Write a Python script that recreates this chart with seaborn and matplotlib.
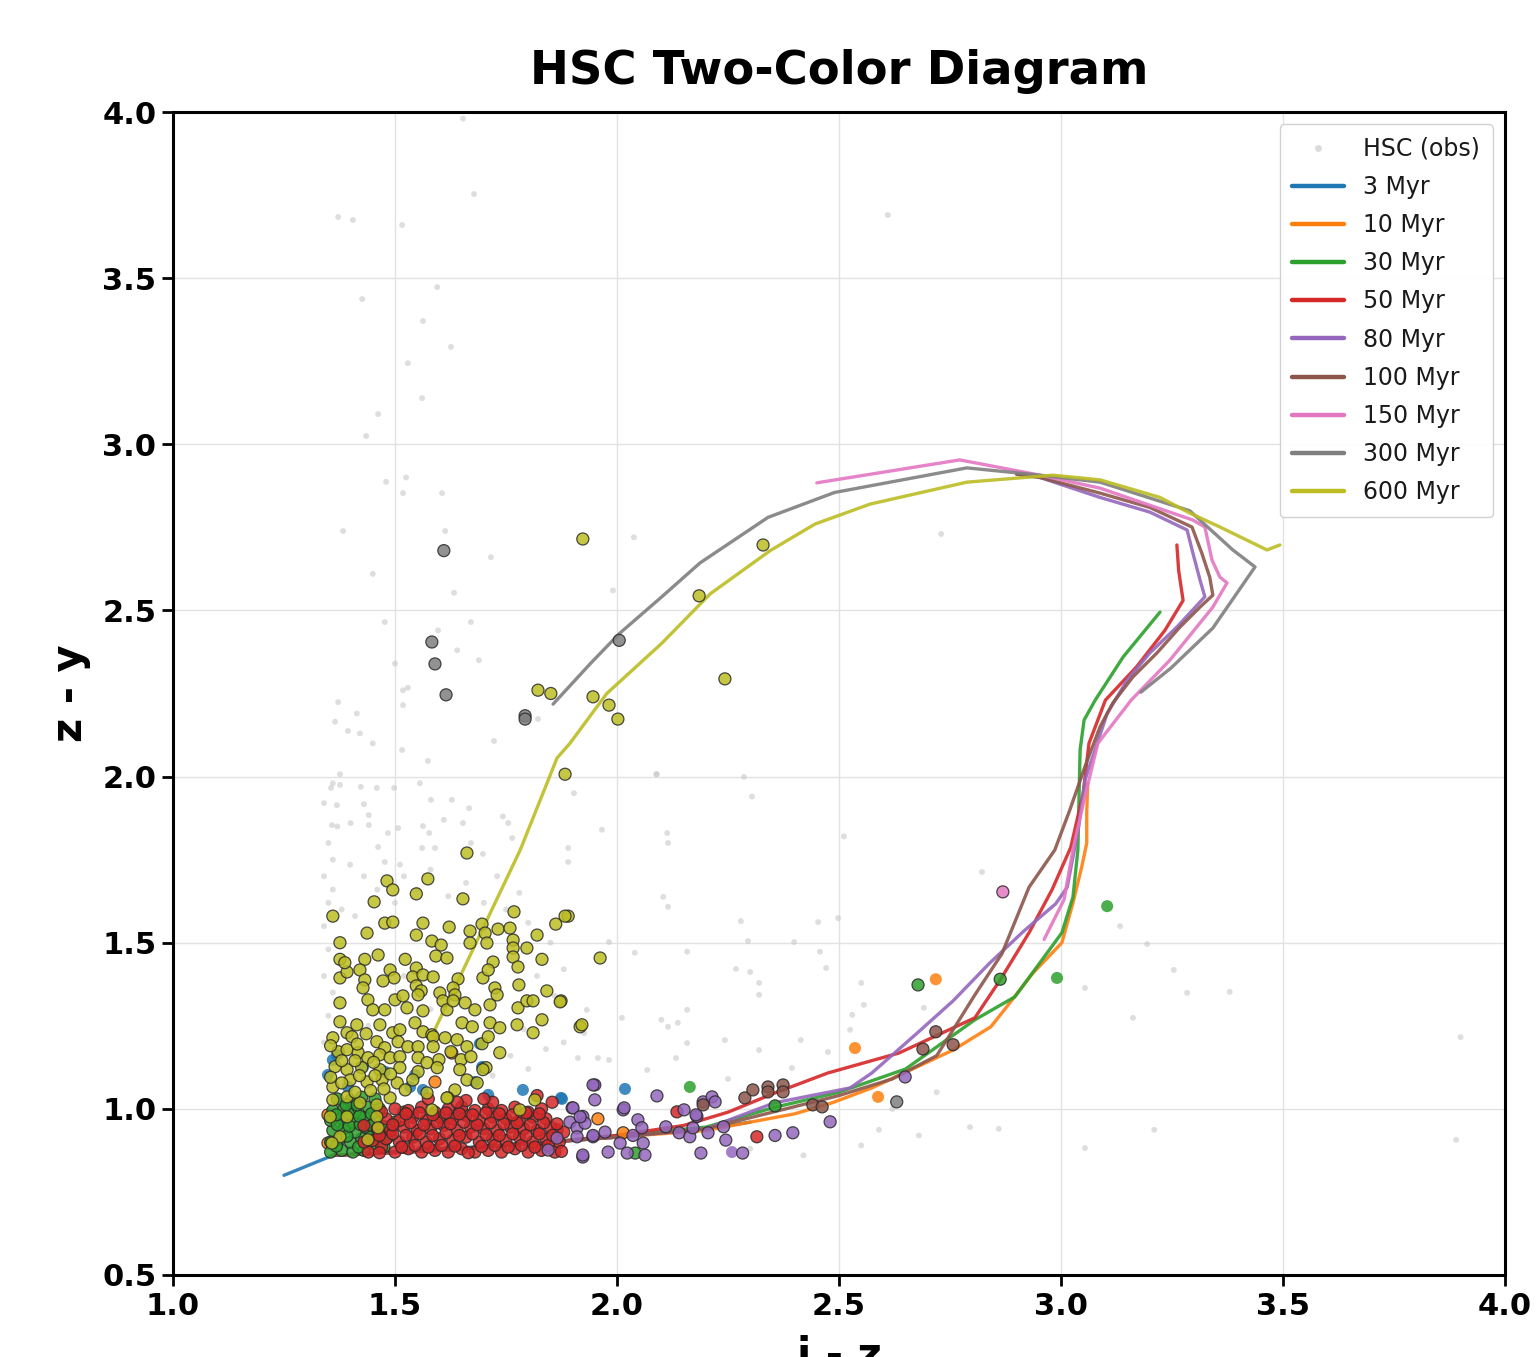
import numpy as np
import pandas as pd
import matplotlib
matplotlib.use("Agg")
import matplotlib.pyplot as plt
from matplotlib.lines import Line2D
import seaborn as sns

# ---------------- data ----------------
ages = ["3 Myr", "10 Myr", "30 Myr", "50 Myr", "80 Myr", "100 Myr", "150 Myr", "300 Myr", "600 Myr"]

# isochrone tracks (i-z, z-y)
iso_x = {
    "3 Myr": [1.25, 1.36, 1.55, 1.80, 2.00, 2.20, 2.30],
    "10 Myr": [1.36, 1.60, 1.85, 2.00, 2.20, 2.40, 2.484, 2.574, 2.757, 2.842, 2.876, 2.937, 3.002, 3.027, 3.047, 3.058, 3.058, 3.06],
    "30 Myr": [1.36, 1.60, 1.85, 2.00, 2.20, 2.356, 2.50, 2.65, 2.806, 2.896, 2.962, 3.002, 3.027, 3.038, 3.043, 3.052, 3.077, 3.14, 3.223],
    "50 Myr": [1.36, 1.60, 1.85, 2.00, 2.15, 2.25, 2.354, 2.475, 2.635, 2.806, 2.863, 2.928, 2.98, 3.022, 3.05, 3.063, 3.10, 3.17, 3.234, 3.275, 3.265, 3.261],
    "80 Myr": [1.36, 1.60, 1.85, 2.00, 2.20, 2.354, 2.525, 2.574, 2.676, 2.757, 2.838, 2.917, 2.988, 3.014, 3.04, 3.054, 3.104, 3.149, 3.20, 3.261, 3.324, 3.313, 3.297, 3.284, 3.20, 3.088, 2.953, 2.90],
    "100 Myr": [1.36, 1.60, 1.85, 2.00, 2.20, 2.35, 2.50, 2.62, 2.72, 2.757, 2.806, 2.867, 2.928, 2.986, 3.02, 3.054, 3.088, 3.117, 3.162, 3.216, 3.268, 3.313, 3.342, 3.335, 3.317, 3.295, 3.20, 3.088, 2.953, 2.90],
    "150 Myr": [2.962, 3.007, 3.027, 3.052, 3.083, 3.158, 3.245, 3.342, 3.374, 3.358, 3.34, 3.324, 3.297, 3.088, 2.953, 2.772, 2.45],
    "300 Myr": [1.856, 1.94, 2.005, 2.10, 2.187, 2.34, 2.49, 2.788, 2.953, 3.088, 3.29, 3.387, 3.437, 3.342, 3.248, 3.18],
    "600 Myr": [1.586, 1.782, 1.865, 1.894, 1.977, 2.10, 2.21, 2.345, 2.446, 2.57, 2.788, 2.982, 3.088, 3.223, 3.29, 3.358, 3.464, 3.493],
}
iso_y = {
    "3 Myr": [0.80, 0.86, 0.875, 0.895, 0.915, 0.94, 0.96],
    "10 Myr": [0.86, 0.875, 0.90, 0.915, 0.935, 0.985, 1.018, 1.063, 1.177, 1.247, 1.304, 1.409, 1.50, 1.62, 1.73, 1.80, 1.89, 1.98],
    "30 Myr": [0.86, 0.875, 0.90, 0.92, 0.945, 1.005, 1.05, 1.12, 1.268, 1.337, 1.457, 1.53, 1.638, 1.779, 2.08, 2.17, 2.23, 2.36, 2.495],
    "50 Myr": [0.86, 0.875, 0.90, 0.92, 0.95, 0.99, 1.047, 1.108, 1.168, 1.274, 1.388, 1.53, 1.66, 1.787, 1.95, 2.10, 2.23, 2.33, 2.44, 2.53, 2.62, 2.697],
    "80 Myr": [0.86, 0.875, 0.90, 0.915, 0.94, 1.018, 1.063, 1.108, 1.228, 1.325, 1.437, 1.536, 1.617, 1.667, 1.85, 1.99, 2.19, 2.29, 2.372, 2.45, 2.541, 2.592, 2.673, 2.742, 2.796, 2.84, 2.90, 2.91],
    "100 Myr": [0.86, 0.875, 0.90, 0.915, 0.94, 0.99, 1.04, 1.09, 1.16, 1.238, 1.343, 1.467, 1.667, 1.779, 1.90, 2.03, 2.15, 2.222, 2.30, 2.372, 2.45, 2.51, 2.546, 2.60, 2.673, 2.751, 2.81, 2.853, 2.90, 2.91],
    "150 Myr": [1.51, 1.63, 1.78, 1.93, 2.10, 2.23, 2.35, 2.51, 2.583, 2.60, 2.652, 2.751, 2.772, 2.868, 2.907, 2.953, 2.884],
    "300 Myr": [2.218, 2.34, 2.43, 2.54, 2.643, 2.78, 2.855, 2.929, 2.907, 2.886, 2.80, 2.682, 2.631, 2.447, 2.327, 2.254],
    "600 Myr": [1.228, 1.779, 2.056, 2.10, 2.25, 2.40, 2.55, 2.68, 2.76, 2.82, 2.886, 2.907, 2.893, 2.84, 2.793, 2.751, 2.682, 2.697],
}

# observed HSC sources (grey background)
obs_pts = [
    (1.653, 3.98), (1.678, 3.753), (1.372, 3.684), (1.405, 3.675), (1.516, 3.66), (1.595, 3.473), (1.426, 3.437),
    (1.563, 3.371), (1.626, 3.293), (1.529, 3.244), (1.561, 3.139), (1.462, 3.091), (1.435, 3.025), (1.48, 2.887),
    (1.525, 2.90), (1.518, 2.853), (1.606, 2.853), (1.383, 2.739), (1.613, 2.739), (2.038, 2.72), (1.716, 2.66),
    (2.61, 3.69), (2.73, 2.73), (1.45, 2.61), (1.633, 2.553), (1.991, 2.56), (1.477, 2.465), (1.597, 2.44),
    (1.671, 2.465), (1.64, 2.38), (1.689, 2.35), (1.50, 2.34), (1.518, 2.26), (1.529, 2.267), (1.518, 2.215),
    (1.372, 2.224), (1.414, 2.19), (1.365, 2.165), (1.394, 2.137), (1.421, 2.13), (1.45, 2.10), (1.516, 2.08),
    (1.723, 2.107), (1.822, 2.173), (1.574, 2.047), (1.376, 2.007), (2.09, 2.007), (1.356, 1.966), (1.376, 1.975),
    (1.423, 1.969), (1.459, 1.966), (1.498, 1.966), (1.556, 1.98), (1.581, 1.93), (1.628, 1.93), (1.667, 1.905),
    (1.369, 1.914), (1.43, 1.917), (1.441, 1.884), (1.358, 1.854), (1.40, 1.86), (1.441, 1.854), (1.484, 1.83),
    (1.462, 1.788), (1.507, 1.845), (1.563, 1.851), (1.577, 1.83), (1.61, 1.87), (1.653, 1.86), (1.743, 1.88),
    (1.755, 1.86), (1.764, 1.815), (1.561, 1.785), (1.59, 1.785), (1.671, 1.80), (1.698, 1.767), (1.36, 1.75),
    (1.399, 1.735), (1.477, 1.743), (1.511, 1.735), (1.89, 1.785), (1.89, 1.743), (1.966, 1.84), (1.903, 1.95),
    (2.088, 2.007), (2.286, 1.999), (2.304, 1.94), (2.113, 1.83), (2.115, 1.80), (2.511, 1.82), (2.104, 1.638),
    (2.115, 1.608), (2.279, 1.565), (2.453, 1.562), (2.498, 1.574), (2.295, 1.505), (2.399, 1.502), (2.457, 1.473),
    (1.982, 1.502), (2.04, 1.47), (2.158, 1.473), (2.471, 1.424), (2.268, 1.421), (2.30, 1.412), (2.32, 1.379),
    (2.32, 1.343), (2.55, 1.379), (2.556, 1.313), (2.53, 1.283), (2.158, 1.298), (2.10, 1.268), (2.137, 1.259),
    (2.115, 1.247), (2.011, 1.274), (1.932, 1.298), (1.926, 1.228), (2.243, 1.207), (2.158, 1.198), (2.32, 1.177),
    (2.414, 1.207), (2.475, 1.171), (2.525, 1.238), (2.691, 1.304), (2.822, 1.713), (3.133, 1.55), (3.194, 1.496),
    (3.254, 1.418), (3.284, 1.349), (3.38, 1.352), (3.162, 1.274), (3.054, 1.364), (1.912, 1.153), (1.957, 1.153),
    (1.982, 1.147), (2.133, 1.153), (2.068, 1.117), (2.394, 1.123), (3.054, 0.882), (3.21, 0.937), (2.86, 0.94),
    (2.795, 0.945), (2.59, 0.937), (3.90, 1.216), (3.89, 0.907), (2.30, 0.88), (2.42, 0.86), (2.55, 0.89),
    (2.68, 0.92), (2.25, 1.09), (2.62, 1.00), (2.72, 1.05), (1.34, 1.55), (1.35, 1.62), (1.34, 1.70), (1.36, 1.66),
    (1.35, 1.80), (1.37, 1.85), (1.34, 1.92), (1.36, 1.98), (1.38, 1.60), (1.35, 1.48), (1.34, 1.40), (1.36, 1.35),
    (1.35, 1.28), (1.34, 1.20), (1.41, 1.58), (1.43, 1.70), (1.46, 1.66), (1.50, 1.62), (1.52, 1.70), (1.55, 1.66),
    (1.58, 1.72), (1.62, 1.64), (1.66, 1.68), (1.70, 1.62), (1.73, 1.70), (1.75, 1.60), (1.78, 1.65), (1.80, 1.56),
    (1.85, 1.50), (1.88, 1.42), (1.86, 1.34), (1.82, 1.40), (1.79, 1.24), (1.84, 1.18), (1.76, 1.16), (1.72, 1.10),
    (1.80, 1.12), (1.88, 1.20), (1.62, 1.45), (1.58, 1.30), (1.44, 1.25), (1.52, 1.40),
]

# sources matched to isochrones, without edge
plain_pts = {
    "3 Myr": [(1.876, 1.03), (2.018, 1.06), (1.349, 1.102), (1.36, 1.147), (1.369, 1.162), (1.394, 1.066),
              (1.428, 1.126), (1.477, 1.112), (1.545, 1.102), (1.534, 1.066), (1.563, 1.057), (1.691, 1.196),
              (1.696, 1.126), (1.68, 1.081), (1.71, 1.042), (1.788, 1.057), (1.874, 1.033), (1.646, 0.997),
              (1.631, 0.982), (1.698, 1.124)],
    "10 Myr": [(2.718, 1.39), (2.536, 1.183), (2.588, 1.036)],
    "30 Myr": [(3.104, 1.61), (2.991, 1.394), (2.164, 1.066)],
    "80 Myr": [(2.259, 0.87)],
}

# sources matched to isochrones, with dark edge
edge_pts = {
    "10 Myr": [(1.957, 0.97), (2.014, 0.928), (1.349, 0.982), (1.349, 0.897), (1.59, 1.081), (1.628, 1.168)],
    "30 Myr": [(2.678, 1.373), (2.863, 1.39), (2.356, 1.009), (2.041, 0.867),
               (1.355, 0.87), (1.38, 0.875), (1.405, 0.87), (1.43, 0.875), (1.355, 0.90), (1.375, 0.91),
               (1.40, 0.90), (1.425, 0.91), (1.45, 0.895), (1.36, 0.935), (1.385, 0.94), (1.41, 0.93),
               (1.435, 0.945), (1.46, 0.93), (1.355, 0.965), (1.38, 0.97), (1.405, 0.96), (1.43, 0.975),
               (1.455, 0.965), (1.36, 0.995), (1.385, 1.00), (1.41, 0.99), (1.44, 1.005), (1.465, 1.0),
               (1.37, 1.03), (1.40, 1.025), (1.425, 1.035), (1.455, 1.03), (1.49, 0.92), (1.50, 0.96),
               (1.52, 0.99), (1.475, 0.885), (1.368, 0.888), (1.392, 0.918), (1.418, 0.885), (1.445, 0.915),
               (1.37, 0.952), (1.397, 0.948), (1.422, 0.953), (1.448, 0.95), (1.368, 0.982), (1.395, 0.985),
               (1.42, 0.978), (1.447, 0.985), (1.472, 0.948), (1.48, 0.91), (1.39, 1.012), (1.415, 1.012)],
    "50 Myr": [(2.135, 0.991), (2.315, 0.916), (1.854, 1.02), (1.865, 0.937),
               (1.44, 0.87), (1.47, 0.885), (1.50, 0.87), (1.53, 0.88), (1.56, 0.87), (1.59, 0.875), (1.62, 0.87),
               (1.65, 0.88), (1.68, 0.87), (1.71, 0.875), (1.74, 0.87), (1.77, 0.88), (1.80, 0.87), (1.83, 0.875),
               (1.86, 0.87), (1.45, 0.905), (1.48, 0.91), (1.51, 0.90), (1.54, 0.915), (1.57, 0.90), (1.60, 0.91),
               (1.63, 0.905), (1.66, 0.915), (1.69, 0.90), (1.72, 0.91), (1.75, 0.905), (1.78, 0.915), (1.81, 0.90),
               (1.84, 0.91), (1.87, 0.90), (1.46, 0.94), (1.49, 0.935), (1.52, 0.945), (1.55, 0.935), (1.58, 0.94),
               (1.61, 0.95), (1.64, 0.935), (1.67, 0.945), (1.70, 0.94), (1.73, 0.935), (1.76, 0.945), (1.79, 0.94),
               (1.82, 0.935), (1.85, 0.945), (1.88, 0.93), (1.48, 0.97), (1.51, 0.965), (1.54, 0.975), (1.57, 0.965),
               (1.60, 0.975), (1.63, 0.97), (1.66, 0.98), (1.69, 0.965), (1.72, 0.975), (1.75, 0.97), (1.78, 0.965),
               (1.81, 0.975), (1.84, 0.97), (1.50, 1.00), (1.53, 0.995), (1.56, 1.005), (1.59, 0.99), (1.62, 1.00),
               (1.65, 1.005), (1.68, 0.995), (1.71, 1.00), (1.74, 0.995), (1.77, 1.005), (1.80, 0.99), (1.83, 1.00),
               (1.575, 1.03), (1.66, 1.025), (1.72, 1.02), (1.82, 1.04), (1.47, 0.99), (1.43, 0.95), (1.43, 0.90),
               (1.465, 0.868), (1.515, 0.885), (1.545, 0.89), (1.575, 0.885), (1.605, 0.89), (1.635, 0.888),
               (1.665, 0.868), (1.695, 0.887), (1.725, 0.89), (1.755, 0.885), (1.785, 0.89), (1.815, 0.885),
               (1.845, 0.89), (1.875, 0.872), (1.465, 0.92), (1.495, 0.925), (1.525, 0.92), (1.555, 0.925),
               (1.585, 0.92), (1.615, 0.928), (1.645, 0.92), (1.675, 0.925), (1.705, 0.922), (1.735, 0.92),
               (1.765, 0.925), (1.795, 0.92), (1.825, 0.925), (1.855, 0.92), (1.495, 0.952), (1.535, 0.958),
               (1.565, 0.952), (1.595, 0.958), (1.625, 0.955), (1.655, 0.96), (1.685, 0.952), (1.715, 0.958),
               (1.745, 0.955), (1.775, 0.958), (1.805, 0.952), (1.835, 0.958), (1.865, 0.955), (1.525, 0.985),
               (1.555, 0.988), (1.585, 0.982), (1.615, 0.988), (1.645, 0.985), (1.675, 0.982), (1.705, 0.988),
               (1.735, 0.985), (1.765, 0.982), (1.795, 0.988), (1.825, 0.985), (1.64, 1.02), (1.70, 1.03)],
    "80 Myr": [(1.95, 1.072), (1.95, 1.027), (1.899, 1.003), (1.923, 0.977), (1.894, 0.96), (1.91, 0.943),
               (1.928, 0.957), (1.91, 0.916), (1.946, 0.916), (1.923, 0.855), (1.973, 0.93), (1.98, 0.87),
               (2.007, 0.897), (2.014, 0.997), (2.023, 0.867), (2.036, 0.92), (2.047, 0.967), (2.056, 0.943),
               (2.059, 0.897), (2.063, 0.861), (2.09, 1.039), (2.11, 0.946), (2.14, 0.928), (2.151, 0.997),
               (2.164, 0.916), (2.171, 0.943), (2.18, 0.977), (2.194, 1.021), (2.214, 1.036), (2.221, 1.021),
               (2.205, 0.928), (2.189, 0.867), (2.24, 0.946), (2.245, 0.906), (2.283, 0.867), (2.356, 0.92),
               (2.396, 0.928), (2.48, 0.961), (2.649, 1.096), (1.946, 1.072), (1.901, 1.003), (1.917, 0.976),
               (1.865, 0.912), (1.845, 0.876), (1.923, 0.861), (1.946, 0.92), (2.178, 0.982), (2.016, 1.003)],
    "100 Myr": [(2.718, 1.232), (2.689, 1.18), (2.757, 1.193), (2.288, 1.033), (2.306, 1.057), (2.34, 1.066),
                (2.34, 1.051), (2.374, 1.072), (2.374, 1.051), (2.194, 1.012), (2.441, 1.012), (2.462, 1.006)],
    "150 Myr": [(2.869, 1.653)],
    "300 Myr": [(1.61, 2.68), (1.583, 2.405), (1.59, 2.339), (1.615, 2.246), (1.793, 2.183), (1.793, 2.173),
                (2.005, 2.41), (2.63, 1.021)],
    "600 Myr": [(1.923, 2.715), (2.329, 2.697), (2.185, 2.544), (1.822, 2.26), (1.851, 2.25), (1.946, 2.24),
                (1.982, 2.215), (2.002, 2.173), (2.243, 2.294), (1.883, 2.007), (1.662, 1.77),
                (1.482, 1.686), (1.574, 1.692), (1.495, 1.659), (1.548, 1.647), (1.453, 1.623), (1.653, 1.632),
                (1.768, 1.593), (1.862, 1.556), (1.89, 1.58), (1.477, 1.559), (1.495, 1.562), (1.563, 1.559),
                (1.622, 1.547), (1.669, 1.535), (1.696, 1.556), (1.437, 1.529), (1.548, 1.523), (1.703, 1.529),
                (1.732, 1.541), (1.759, 1.544), (1.82, 1.523), (1.766, 1.508), (1.583, 1.505), (1.604, 1.493),
                (1.669, 1.499), (1.707, 1.499), (1.797, 1.484), (1.592, 1.46), (1.617, 1.454), (1.766, 1.484),
                (1.766, 1.457), (1.831, 1.45), (1.462, 1.463), (1.432, 1.45), (1.376, 1.45), (1.376, 1.394),
                (1.392, 1.412), (1.421, 1.418), (1.489, 1.418), (1.523, 1.45), (1.548, 1.424), (1.498, 1.394),
                (1.54, 1.397), (1.563, 1.403), (1.586, 1.397), (1.721, 1.442), (1.698, 1.394), (1.71, 1.418),
                (1.777, 1.427), (1.642, 1.391), (1.432, 1.388), (1.473, 1.385), (1.548, 1.37), (1.559, 1.355),
                (1.552, 1.343), (1.601, 1.349), (1.631, 1.364), (1.635, 1.343), (1.658, 1.319), (1.725, 1.364),
                (1.779, 1.373), (1.842, 1.355), (1.874, 1.325), (1.428, 1.364), (1.439, 1.328), (1.50, 1.328),
                (1.518, 1.34), (1.376, 1.319), (1.45, 1.298), (1.477, 1.298), (1.527, 1.304), (1.563, 1.295),
                (1.608, 1.325), (1.617, 1.298), (1.631, 1.325), (1.68, 1.298), (1.714, 1.313), (1.73, 1.343),
                (1.777, 1.304), (1.797, 1.325), (1.811, 1.325), (1.831, 1.268), (1.376, 1.262), (1.414, 1.253),
                (1.466, 1.253), (1.495, 1.229), (1.511, 1.238), (1.545, 1.259), (1.563, 1.232), (1.583, 1.223),
                (1.651, 1.259), (1.674, 1.247), (1.714, 1.259), (1.736, 1.244), (1.775, 1.253), (1.811, 1.229),
                (1.917, 1.247), (1.36, 1.214), (1.392, 1.229), (1.403, 1.217), (1.435, 1.226), (1.459, 1.202),
                (1.477, 1.184), (1.507, 1.202), (1.529, 1.187), (1.552, 1.187), (1.586, 1.217), (1.586, 1.187),
                (1.613, 1.214), (1.64, 1.208), (1.662, 1.187), (1.696, 1.196), (1.71, 1.217), (1.736, 1.169),
                (1.372, 1.172), (1.392, 1.178), (1.417, 1.169), (1.439, 1.154), (1.466, 1.163), (1.489, 1.154),
                (1.511, 1.157), (1.552, 1.154), (1.572, 1.139), (1.599, 1.148), (1.626, 1.172), (1.649, 1.148),
                (1.671, 1.157), (1.705, 1.124), (1.646, 1.118), (1.595, 1.124), (1.552, 1.112), (1.511, 1.124),
                (1.466, 1.118), (1.425, 1.124), (1.392, 1.118), (1.365, 1.127), (1.399, 1.087), (1.437, 1.081),
                (1.471, 1.087), (1.505, 1.078), (1.54, 1.087), (1.36, 1.066), (1.38, 1.078), (1.662, 1.087),
                (1.685, 1.078), (1.698, 1.118), (1.635, 1.057), (1.619, 1.033), (1.572, 1.048), (1.523, 1.057),
                (1.392, 1.036), (1.36, 1.027), (1.421, 1.018), (1.459, 1.012), (1.489, 1.033), (1.354, 0.976),
                (1.392, 0.976), (1.376, 0.916), (1.358, 0.897), (1.459, 0.976), (1.439, 0.907), (1.583, 0.997),
                (1.815, 1.027), (1.462, 0.943), (1.781, 0.997), (1.617, 1.033), (1.883, 1.58), (1.962, 1.454),
                (1.921, 1.253), (1.872, 1.322), (1.36, 1.58), (1.376, 1.50), (1.387, 1.44),
                (1.41, 1.05), (1.445, 1.055), (1.475, 1.06), (1.355, 1.095), (1.42, 1.10), (1.455, 1.10),
                (1.49, 1.105), (1.38, 1.145), (1.41, 1.145), (1.452, 1.14), (1.355, 1.19), (1.415, 1.195)],
}

# ---------------- plotting ----------------
sns.set_theme(style="whitegrid")
plt.rcParams["font.family"] = ["DejaVu Sans"]
plt.rcParams["text.color"] = "black"
plt.rcParams["axes.labelcolor"] = "black"
plt.rcParams["xtick.color"] = "black"
plt.rcParams["ytick.color"] = "black"
palette = dict(zip(ages, sns.color_palette("tab10", len(ages))))

fig = plt.figure(figsize=(15.39, 13.57), dpi=100)
ax = fig.add_axes([173 / 1539, 1 - 1275 / 1357, (1505 - 173) / 1539, (1275 - 112) / 1357])
ax.set_facecolor("white")

obs_df = pd.DataFrame(obs_pts, columns=["x", "y"])
sns.scatterplot(data=obs_df, x="x", y="y", ax=ax, color="#c4c4c4", s=18, alpha=0.55,
                edgecolor="none", legend=False, zorder=1)

line_rows = []
for a in ages:
    for xv, yv in zip(iso_x[a], iso_y[a]):
        line_rows.append((a, xv, yv))
line_df = pd.DataFrame(line_rows, columns=["age", "x", "y"])
sns.lineplot(data=line_df, x="x", y="y", hue="age", hue_order=ages, palette=palette,
             sort=False, estimator=None, lw=2.4, alpha=0.9, ax=ax, legend=False, zorder=2)

plain_rows = [(a, xv, yv) for a in ages if a in plain_pts for xv, yv in plain_pts[a]]
plain_df = pd.DataFrame(plain_rows, columns=["age", "x", "y"])
sns.scatterplot(data=plain_df, x="x", y="y", hue="age", hue_order=ages, palette=palette,
                s=75, alpha=0.85, edgecolor="none", ax=ax, legend=False, zorder=3)

edge_rows = [(a, xv, yv) for a in ages if a in edge_pts for xv, yv in edge_pts[a]]
edge_df = pd.DataFrame(edge_rows, columns=["age", "x", "y"])
sns.scatterplot(data=edge_df, x="x", y="y", hue="age", hue_order=ages, palette=palette,
                s=75, alpha=0.85, edgecolor="#2a2a2a", linewidth=0.9, ax=ax, legend=False, zorder=4)

ax.set_xlim(1.0, 4.0)
ax.set_ylim(0.5, 4.0)
ax.set_xticks([1.0, 1.5, 2.0, 2.5, 3.0, 3.5, 4.0])
ax.set_yticks([0.5, 1.0, 1.5, 2.0, 2.5, 3.0, 3.5, 4.0])
ax.set_xticklabels(["1.0", "1.5", "2.0", "2.5", "3.0", "3.5", "4.0"])
ax.set_yticklabels(["0.5", "1.0", "1.5", "2.0", "2.5", "3.0", "3.5", "4.0"])
ax.grid(True, color="#e2e2e2", lw=1.0)
ax.set_axisbelow(True)
for sp in ax.spines.values():
    sp.set_color("black")
    sp.set_linewidth(2.2)
ax.tick_params(axis="both", which="major", direction="out", length=8, width=2,
               color="black", labelcolor="black", labelsize=22, pad=4, bottom=True, left=True)
for lab in ax.get_xticklabels() + ax.get_yticklabels():
    lab.set_fontweight("bold")

ax.set_xlabel("i - z", fontsize=30, fontweight="bold", labelpad=10, color="black")
ax.set_ylabel("z - y", fontsize=30, fontweight="bold", labelpad=8, color="black")
ax.set_title("HSC Two-Color Diagram", fontsize=33.5, fontweight="bold", pad=20, color="black")

handles = [Line2D([0], [0], marker="o", color="none", markerfacecolor="#c4c4c4",
                  markeredgecolor="none", markersize=5, alpha=0.6, label="HSC (obs)")]
for a in ages:
    handles.append(Line2D([0], [0], color=palette[a], lw=3.2, label=a))
leg = ax.legend(handles=handles, loc="upper right", fontsize=17, frameon=True,
                framealpha=0.9, edgecolor="#cccccc", fancybox=True, handlelength=2.2,
                labelspacing=0.6, borderpad=0.55)
for t in leg.get_texts():
    t.set_color("#1a1a1a")

fig.savefig("out.png", dpi=100)
